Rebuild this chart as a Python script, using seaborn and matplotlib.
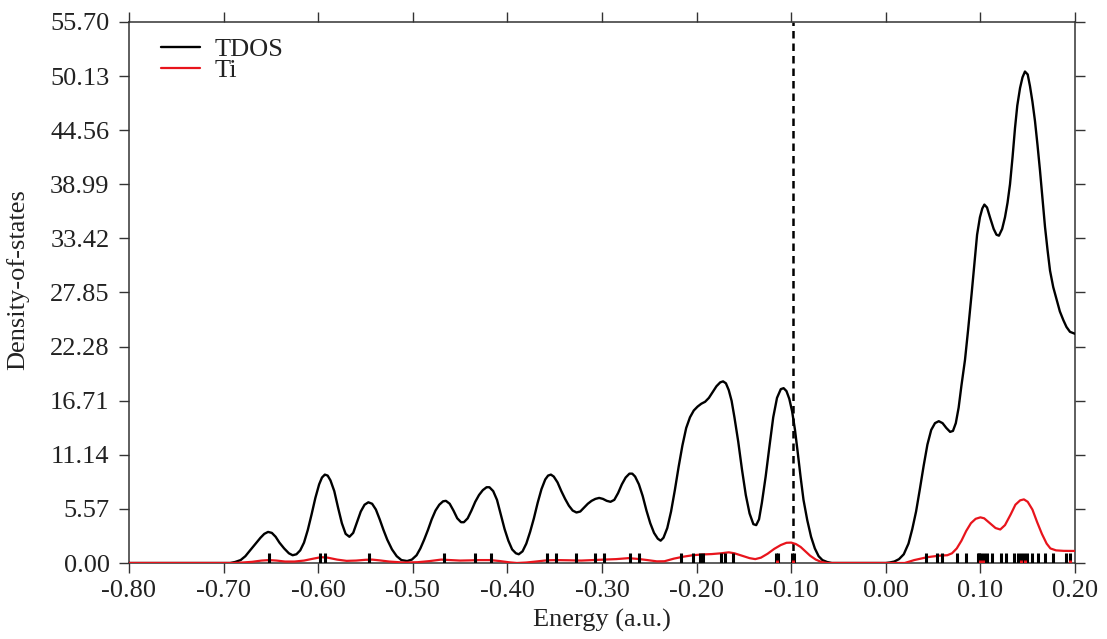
import numpy as np
import pandas as pd
import matplotlib
matplotlib.use("Agg")
import matplotlib.pyplot as plt
import seaborn as sns

# Total density of states (energy in a.u.)
tdos_energy = [-0.800, -0.700, -0.693, -0.688, -0.682, -0.677, -0.672, -0.666, -0.661, -0.657,
               -0.653, -0.649, -0.645, -0.641, -0.636, -0.631, -0.627, -0.623, -0.619, -0.615,
               -0.611, -0.607, -0.603, -0.599, -0.596, -0.593, -0.590, -0.587, -0.583, -0.579,
               -0.575, -0.571, -0.567, -0.563, -0.559, -0.555, -0.551, -0.547, -0.543, -0.539,
               -0.535, -0.531, -0.527, -0.522, -0.517, -0.512, -0.506, -0.501, -0.496, -0.492,
               -0.488, -0.484, -0.480, -0.476, -0.472, -0.468, -0.465, -0.461, -0.457, -0.453,
               -0.449, -0.446, -0.442, -0.438, -0.434, -0.430, -0.426, -0.422, -0.419, -0.415,
               -0.411, -0.407, -0.403, -0.399, -0.395, -0.391, -0.388, -0.384, -0.380, -0.376,
               -0.372, -0.368, -0.364, -0.360, -0.357, -0.354, -0.351, -0.347, -0.343, -0.339,
               -0.335, -0.331, -0.327, -0.323, -0.319, -0.315, -0.311, -0.307, -0.303, -0.299,
               -0.295, -0.291, -0.287, -0.283, -0.279, -0.275, -0.271, -0.268, -0.265, -0.261,
               -0.257, -0.253, -0.249, -0.245, -0.241, -0.238, -0.235, -0.231, -0.227, -0.223,
               -0.219, -0.215, -0.211, -0.207, -0.203, -0.199, -0.195, -0.191, -0.187, -0.183,
               -0.179, -0.175, -0.172, -0.169, -0.166, -0.163, -0.160, -0.156, -0.152, -0.148,
               -0.144, -0.140, -0.137, -0.134, -0.131, -0.127, -0.123, -0.119, -0.115, -0.111,
               -0.108, -0.105, -0.102, -0.099, -0.096, -0.093, -0.090, -0.087, -0.083, -0.079,
               -0.075, -0.071, -0.067, -0.062, -0.057, 0.000, 0.004, 0.009, 0.014, 0.019,
               0.024, 0.028, 0.032, 0.036, 0.040, 0.044, 0.048, 0.052, 0.056, 0.060,
               0.064, 0.068, 0.071, 0.074, 0.077, 0.080, 0.0837, 0.087, 0.0907, 0.094,
               0.0965, 0.0995, 0.102, 0.1042, 0.107, 0.1101, 0.114, 0.117, 0.1196, 0.123,
               0.126, 0.1287, 0.1313, 0.134, 0.1366, 0.139, 0.1419, 0.1445, 0.1471, 0.150,
               0.1524, 0.155, 0.1577, 0.1604, 0.1630, 0.1657, 0.1683, 0.171, 0.1736, 0.177,
               0.1806, 0.184, 0.1877, 0.191, 0.1947, 0.200]
tdos_value = [0.0, 0.0, 0.0, 0.1, 0.3, 0.7, 1.3, 2.0, 2.6, 3.0,
              3.2, 3.1, 2.7, 2.1, 1.5, 1.0, 0.8, 0.9, 1.3, 2.1,
              3.4, 5.0, 6.7, 8.1, 8.8, 9.1, 9.0, 8.5, 7.4, 5.7,
              4.1, 3.0, 2.7, 3.1, 4.2, 5.3, 6.0, 6.25, 6.1, 5.5,
              4.5, 3.4, 2.4, 1.4, 0.7, 0.3, 0.2, 0.35, 0.8, 1.5,
              2.4, 3.4, 4.5, 5.4, 6.0, 6.35, 6.4, 6.1, 5.4, 4.6,
              4.2, 4.2, 4.6, 5.4, 6.3, 7.0, 7.5, 7.8, 7.8, 7.4,
              6.5, 5.0, 3.5, 2.3, 1.4, 1.0, 0.9, 1.2, 2.0, 3.2,
              4.6, 6.2, 7.6, 8.6, 9.0, 9.1, 8.9, 8.3, 7.4, 6.6,
              5.9, 5.4, 5.2, 5.3, 5.7, 6.1, 6.4, 6.6, 6.7, 6.6,
              6.4, 6.3, 6.5, 7.2, 8.1, 8.8, 9.2, 9.2, 8.9, 8.1,
              6.9, 5.4, 4.1, 3.1, 2.5, 2.3, 2.6, 3.6, 5.3, 7.5,
              9.9, 12.1, 13.9, 15.0, 15.7, 16.1, 16.4, 16.6, 17.0, 17.6,
              18.2, 18.6, 18.7, 18.5, 17.8, 16.7, 15.0, 12.5, 9.6, 7.0,
              5.1, 4.0, 3.9, 4.5, 6.2, 8.9, 12.0, 15.0, 17.0, 17.9,
              18.0, 17.7, 16.9, 15.6, 13.7, 11.3, 8.8, 6.5, 4.4, 2.7,
              1.5, 0.7, 0.3, 0.1, 0.0, 0.0, 0.05, 0.15, 0.4, 0.9,
              2.0, 3.5, 5.3, 7.6, 10.0, 12.2, 13.7, 14.4, 14.6, 14.4,
              13.9, 13.5, 13.6, 14.4, 16.0, 18.3, 20.9, 24.0, 27.7, 31.2,
              33.8, 35.6, 36.5, 36.9, 36.6, 35.6, 34.4, 33.8, 33.7, 34.4,
              35.6, 37.1, 39.0, 41.8, 44.8, 47.1, 48.9, 50.0, 50.6, 50.3,
              49.1, 47.5, 45.5, 43.0, 40.4, 37.5, 34.6, 32.2, 30.1, 28.4,
              27.1, 25.9, 25.0, 24.3, 23.8, 23.6]

# Ti partial density of states
ti_energy = [-0.800, -0.690, -0.680, -0.670, -0.660, -0.652, -0.644, -0.635, -0.625, -0.615,
             -0.605, -0.597, -0.590, -0.580, -0.570, -0.560, -0.550, -0.543, -0.535, -0.525,
             -0.510, -0.495, -0.482, -0.470, -0.460, -0.450, -0.440, -0.430, -0.418, -0.408,
             -0.398, -0.390, -0.380, -0.370, -0.358, -0.348, -0.335, -0.322, -0.310, -0.298,
             -0.285, -0.272, -0.262, -0.252, -0.242, -0.234, -0.224, -0.214, -0.204, -0.194,
             -0.184, -0.174, -0.166, -0.160, -0.152, -0.144, -0.138, -0.132, -0.125, -0.118,
             -0.111, -0.105, -0.100, -0.095, -0.090, -0.085, -0.080, -0.074, -0.068, -0.062,
             0.020, 0.030, 0.044, 0.056, 0.065, 0.070, 0.075, 0.080, 0.085, 0.090,
             0.095, 0.100, 0.104, 0.110, 0.116, 0.121, 0.126, 0.132, 0.137, 0.142,
             0.146, 0.150, 0.155, 0.160, 0.165, 0.170, 0.174, 0.180, 0.188, 0.200]
ti_value = [0.0, 0.0, 0.05, 0.12, 0.25, 0.3, 0.25, 0.15, 0.15, 0.25,
            0.45, 0.6, 0.55, 0.35, 0.22, 0.25, 0.33, 0.35, 0.27, 0.15,
            0.05, 0.08, 0.2, 0.35, 0.3, 0.25, 0.27, 0.3, 0.3, 0.2,
            0.07, 0.0, 0.05, 0.15, 0.28, 0.3, 0.28, 0.25, 0.3, 0.35,
            0.4, 0.5, 0.42, 0.3, 0.17, 0.18, 0.45, 0.65, 0.8, 0.88,
            0.92, 1.0, 1.1, 1.0, 0.75, 0.5, 0.4, 0.55, 0.95, 1.45,
            1.85, 2.08, 2.1, 1.95, 1.65, 1.2, 0.75, 0.35, 0.1, 0.0,
            0.0, 0.3, 0.6, 0.75, 0.8, 1.0, 1.5, 2.3, 3.3, 4.1,
            4.55, 4.7, 4.6, 4.1, 3.6, 3.45, 3.9, 5.0, 6.0, 6.45,
            6.55, 6.3, 5.5, 4.2, 3.0, 2.0, 1.5, 1.3, 1.25, 1.24]

# Orbital eigenvalues shown as sticks along the energy axis
levels = [-0.652, -0.598, -0.593, -0.546, -0.467, -0.434, -0.417, -0.358, -0.349, -0.327,
          -0.307, -0.298, -0.270, -0.261, -0.216, -0.204, -0.196, -0.193, -0.174, -0.170,
          -0.162, -0.116, -0.114, -0.099, -0.097,
          0.043, 0.054, 0.059, 0.075, 0.085, 0.097, 0.099, 0.101, 0.104, 0.107,
          0.112, 0.122, 0.127, 0.136, 0.140, 0.143, 0.146, 0.149, 0.155, 0.161,
          0.168, 0.177, 0.190, 0.195]
ti_levels = [-0.115, -0.098, 0.100, 0.103, 0.143, 0.147, 0.195]

homo_energy = -0.098

x_ticks = [-0.80, -0.70, -0.60, -0.50, -0.40, -0.30, -0.20, -0.10, 0.00, 0.10, 0.20]
y_ticks = [0.00, 5.57, 11.14, 16.71, 22.28, 27.85, 33.42, 38.99, 44.56, 50.13, 55.70]

sns.set_theme(style="ticks")
plt.rcParams["font.family"] = ["Liberation Serif", "DejaVu Serif"]
plt.rcParams["axes.linewidth"] = 1.1

FS = 19
fig = plt.figure(figsize=(11.07, 6.39), dpi=100)
ax = fig.add_axes([129 / 1107, 1 - 563 / 639, (1075 - 129) / 1107, (563 - 22) / 639])

tdos = pd.DataFrame({"Energy": tdos_energy, "DOS": tdos_value})
ti = pd.DataFrame({"Energy": ti_energy, "DOS": ti_value})

sns.lineplot(data=tdos, x="Energy", y="DOS", ax=ax, color="black", linewidth=1.7,
             label="TDOS", solid_joinstyle="round", zorder=3)
sns.lineplot(data=ti, x="Energy", y="DOS", ax=ax, color="#e8141c", linewidth=1.6,
             label="Ti", solid_joinstyle="round", zorder=4)

sns.rugplot(x=levels, ax=ax, height=0.018, color="black", linewidth=2.2, zorder=5)
sns.rugplot(x=ti_levels, ax=ax, height=0.005, color="#e8141c", linewidth=2.2, zorder=6)

ax.axvline(homo_energy, color="black", ls=(0, (3, 2)), lw=1.8, zorder=2)

ax.set_xlim(-0.80, 0.20)
ax.set_ylim(0, 55.70)
ax.set_xticks(x_ticks)
ax.set_xticklabels([f"{v:.2f}" for v in x_ticks])
ax.set_yticks(y_ticks)
ax.set_yticklabels([f"{v:.2f}" for v in y_ticks])
ax.tick_params(axis="both", direction="out", length=7, width=1.0, labelsize=FS,
               color="#333333", labelcolor="#222222", top=True, right=True,
               labeltop=False, labelright=False)
ax.tick_params(axis="x", pad=5)
ax.tick_params(axis="y", pad=7)
for s in ax.spines.values():
    s.set_color("#333333")

ax.set_xlabel("Energy (a.u.)", fontsize=FS, color="#222222", labelpad=5)
ax.set_ylabel("Density-of-states", fontsize=FS, color="#222222")
ax.yaxis.set_label_coords(-0.106, 0.523)

leg = ax.legend(loc="upper left", bbox_to_anchor=(0.017, 1.0), frameon=False,
                fontsize=FS, handlelength=1.5, handletextpad=0.55,
                labelspacing=-0.1, borderaxespad=0.2)
for t in leg.get_texts():
    t.set_color("#222222")

fig.savefig("out.png", dpi=100)
